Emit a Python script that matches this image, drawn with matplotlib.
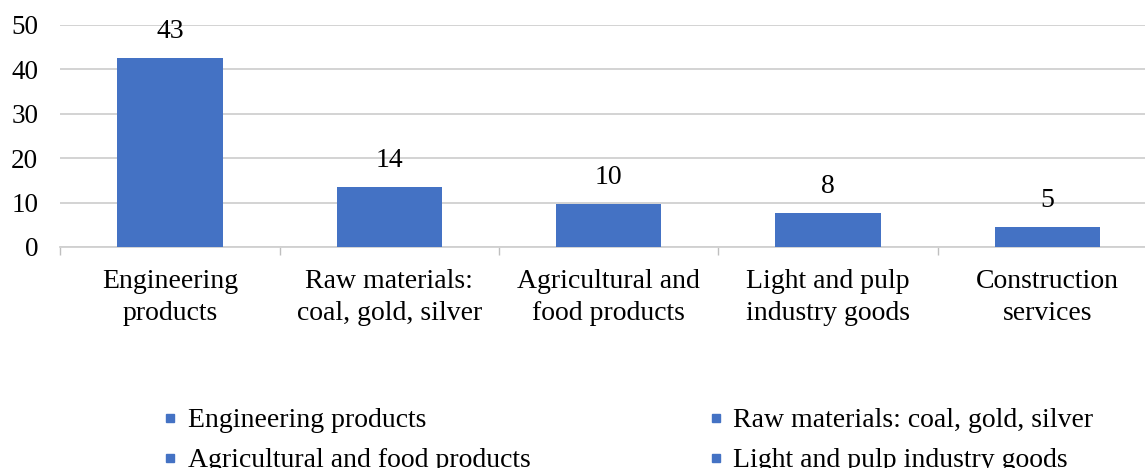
import matplotlib
matplotlib.use("Agg")
import matplotlib.pyplot as plt
from matplotlib.lines import Line2D

categories = ["Engineering\nproducts", "Raw materials:\ncoal, gold, silver",
              "Agricultural and\nfood products", "Light and pulp\nindustry goods",
              "Construction\nservices"]
legend_labels = ["Engineering products", "Raw materials: coal, gold, silver",
                 "Agricultural and food products", "Light and pulp industry goods",
                 "Construction services"]
values = [42.6, 13.6, 9.6, 7.6, 4.6]
value_labels = ["43", "14", "10", "8", "5"]
yticks = [0, 10, 20, 30, 40, 50]

plt.rcParams['font.family'] = ['Liberation Serif', 'DejaVu Serif']

W, H = 1145, 468
fig = plt.figure(figsize=(W / 100, H / 100), dpi=100)
ax = fig.add_axes([60.4 / W, 221 / H, 1096.5 / W, 222 / H])

color = "#4472C4"
x = list(range(len(values)))
bars = ax.bar(x, values, width=0.48, color=color, zorder=3)

for xi, v, lab in zip(x, values, value_labels):
    ax.annotate(lab, (xi, v), xytext=(0, 19), textcoords="offset points",
                ha="center", va="center", fontsize=20, color="#000000")

ax.set_xlim(-0.5, len(values) - 0.5)
ax.set_ylim(0, 50)
ax.set_yticks(yticks)
ax.set_yticklabels([str(t) for t in yticks], fontsize=19.5)
ax.tick_params(axis="y", length=0, pad=16)
ax.yaxis.grid(True, color="#d0d0d0", linewidth=1.3, zorder=0)
ax.set_axisbelow(True)

ax.set_xticks(x)
ax.set_xticklabels(categories, fontsize=20, linespacing=1.38)
ax.tick_params(axis="x", length=0, pad=16)
ax.set_xticks([i - 0.5 for i in range(len(values) + 1)], minor=True)
ax.tick_params(axis="x", which="minor", length=6, width=1, color="#bfbfbf")

for s in ["top", "right", "left"]:
    ax.spines[s].set_visible(False)
ax.spines["bottom"].set_color("#d0d0d0")
ax.spines["bottom"].set_linewidth(1.3)

handles = [Line2D([], [], marker="s", linestyle="", color=color, markersize=6)
           for _ in values]
order = [0, 2, 4, 1, 3]
fig.legend([handles[i] for i in order], [legend_labels[i] for i in order],
           loc="upper left", bbox_to_anchor=(150 / W, 1 - 394 / H), ncol=2,
           frameon=False, fontsize=20, handlelength=0.45, handletextpad=0.4,
           columnspacing=6.45, labelspacing=0.52, borderpad=0)

fig.savefig("out.png", dpi=100)
